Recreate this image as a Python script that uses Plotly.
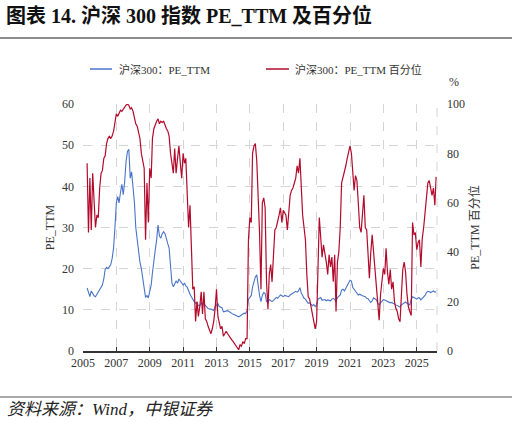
import pandas as pd
import plotly.graph_objects as go

# Monthly observations, Apr 2005 .. Mar 2026
start_month = "2005-04-01"

pe_ttm = [
    # 2005 Apr-Dec
    15.3, 14.0, 13.2, 14.6, 13.8, 13.4, 13.2, 13.8, 14.3,
    # 2006
    15.0, 15.5, 16.0, 17.5, 19.8, 20.3, 20.0, 20.5, 21.0, 22.5, 25.0, 30.0,
    # 2007
    36.0, 37.5, 36.0, 38.5, 40.5, 38.0, 41.0, 46.0, 48.5, 49.0, 42.0, 43.5,
    # 2008
    40.0, 36.0, 30.0, 27.0, 25.0, 21.5, 20.0, 17.5, 15.5, 13.0, 13.5, 12.9,
    # 2009
    14.5, 16.0, 19.0, 22.5, 24.5, 27.0, 30.6, 28.0, 27.4, 28.5, 29.0, 28.5,
    # 2010
    27.0, 26.0, 25.0, 20.0, 16.5, 15.6, 16.5, 17.0, 16.5, 17.5, 17.0, 16.5,
    # 2011
    16.0, 16.5, 15.8, 15.5, 14.5, 13.8, 13.2, 12.5, 12.0, 11.6, 11.8, 11.0,
    # 2012
    11.0, 11.8, 11.2, 11.5, 11.0, 10.6, 10.3, 10.2, 10.2, 10.0, 9.8, 10.8,
    # 2013
    11.2, 11.5, 10.8, 10.6, 10.5, 9.5, 9.6, 9.7, 9.8, 9.6, 9.3, 9.1,
    # 2014
    8.9, 8.8, 8.6, 8.4, 8.3, 8.5, 8.8, 9.0, 9.2, 9.1, 9.8, 12.5,
    # 2015
    13.0, 13.5, 15.5, 17.0, 18.0, 18.5, 15.5, 13.5, 12.0, 13.5, 14.2, 14.0,
    # 2016
    12.0, 11.8, 12.5, 12.2, 12.0, 12.3, 12.6, 13.0, 12.8, 13.2, 13.6, 13.4,
    # 2017
    13.2, 13.5, 13.4, 13.3, 13.2, 13.6, 13.8, 14.0, 14.2, 14.5, 14.3, 14.6,
    # 2018
    15.4, 14.0, 13.5, 12.8, 12.6, 12.0, 11.6, 11.7, 11.4, 11.0, 11.3, 10.8,
    # 2019
    11.2, 12.6, 12.8, 13.0, 12.3, 12.4, 12.5, 12.2, 12.4, 12.3, 12.2, 12.6,
    # 2020
    12.8, 12.5, 12.0, 13.0, 13.2, 13.6, 14.8, 15.0, 14.6, 15.3, 16.0, 16.6,
    # 2021
    17.2, 17.0, 15.5, 15.0, 14.5, 14.2, 13.6, 13.8, 13.5, 13.4, 13.3, 13.2,
    # 2022
    12.8, 12.7, 12.2, 11.8, 12.2, 12.9, 12.7, 12.4, 11.6, 11.2, 11.7, 12.0,
    # 2023
    12.5, 12.4, 12.2, 12.0, 11.8, 11.7, 11.8, 11.5, 11.4, 11.2, 11.0, 10.9,
    # 2024
    10.7, 11.2, 11.5, 11.8, 11.9, 11.6, 11.4, 11.2, 12.5, 13.2, 13.0, 12.8,
    # 2025
    12.6, 12.9, 12.9, 12.4, 12.7, 13.0, 13.5, 14.2, 14.5, 14.4, 14.2, 14.4,
    # 2026 Jan-Mar
    14.6, 14.3, 14.4,
]

pe_pct = [
    # 2005 Apr-Dec
    76, 48, 70, 49, 72, 60, 50, 55, 54,
    # 2006
    66, 72, 73, 78, 79, 84, 86, 87, 86, 87, 89, 93,
    # 2007
    96, 95, 96.5, 97.5, 97, 98, 98.5, 99.5, 100, 99.5, 98, 98.5,
    # 2008
    97, 94, 92, 91, 88, 86, 80, 76, 74, 45, 68, 52,
    # 2009
    74, 70, 86, 90, 92, 93, 94, 92, 93, 92.5, 93, 91,
    # 2010
    90, 89, 87, 80, 76, 72, 82, 72, 78, 83, 76, 70,
    # 2011
    80, 76, 78, 62, 50, 59, 43, 25, 26, 12, 20, 14,
    # 2012
    18, 24, 15, 24, 13, 12, 10, 8, 7, 9, 12, 17,
    # 2013
    25, 14, 11, 9, 10, 6, 7, 8, 7, 6, 5, 4.5,
    # 2014
    3.8, 3, 2, 1.1, 0.5, 2.5, 2, 3.8, 3, 5, 5, 45,
    # 2015
    54, 52, 80, 83, 84, 77, 65, 48, 25, 60, 62, 58,
    # 2016
    28, 17, 31, 35, 28, 40, 49, 50, 52, 55, 58, 52,
    # 2017
    57, 56, 55, 49, 55, 63, 65, 66, 68, 70, 75, 72,
    # 2018
    78, 63, 55, 50, 45, 31, 22, 21, 18, 16, 13, 9,
    # 2019
    12, 36, 54, 46, 38, 43, 40, 36, 31, 39, 34, 38,
    # 2020
    28, 39, 16, 36, 40, 50, 68, 70, 72, 75, 78, 80,
    # 2021
    83, 80, 71, 65, 71, 69, 60, 50, 48, 55, 63, 50,
    # 2022
    49, 39, 29.5, 40, 47, 40, 33, 25, 20, 12.5, 23, 30,
    # 2023
    33.5, 31, 41.6, 32, 27, 33, 25, 28, 20, 17.3, 16, 13,
    # 2024
    11.9, 23, 33, 36, 32, 23, 18, 16, 14.4, 52, 47, 48,
    # 2025
    41, 44, 45, 34, 45.5, 50, 55, 62, 68, 69, 66, 63,
    # 2026 Jan-Mar
    66, 59, 70.5,
]

series_names = ["沪深300：PE_TTM", "沪深300：PE_TTM 百分位"]
left_ticks = [0, 10, 20, 30, 40, 50, 60]
right_ticks = [0, 20, 40, 60, 80, 100]

dates = pd.date_range(start_month, periods=len(pe_ttm), freq="MS")

BLUE = "#4a74c8"
RED = "#b30a2c"
GRID = "#d4d4d4"
TXT = "#333333"
SERIF = "Liberation Serif, Times New Roman, Noto Sans CJK SC, serif"

fig = go.Figure()
fig.add_trace(go.Scatter(x=dates, y=pe_ttm, mode="lines", name=series_names[0],
                         line=dict(color=BLUE, width=1.1), yaxis="y"))
fig.add_trace(go.Scatter(x=dates, y=pe_pct, mode="lines", name=series_names[1],
                         line=dict(color=RED, width=1.2), yaxis="y2"))

fig.update_layout(
    width=516, height=422,
    margin=dict(l=83, r=79, t=104, b=71),
    paper_bgcolor="white", plot_bgcolor="white",
    showlegend=False,
    font=dict(family=SERIF, size=12, color=TXT),
    xaxis=dict(
        type="date", range=["2005-01-01", "2026-03-20"],
        tick0="2005-01-01", dtick="M24", tickformat="%Y",
        showgrid=True, gridcolor=GRID, griddash="dash", gridwidth=1,
        showline=True, linecolor="#333333", linewidth=1.5,
        ticks="inside", ticklen=4, tickcolor="#333333",
        tickfont=dict(family=SERIF, size=12, color=TXT),
        zeroline=False,
    ),
    yaxis=dict(
        range=[0, 60], tickvals=left_ticks,
        showgrid=True, gridcolor=GRID, griddash="dash", gridwidth=1,
        showline=False, zeroline=False, ticks="",
        ticklabelstandoff=8,
        tickfont=dict(family=SERIF, size=12, color=TXT),
        title=dict(text="PE_TTM", font=dict(family=SERIF, size=12, color=TXT), standoff=4),
    ),
    yaxis2=dict(
        range=[0, 100], tickvals=right_ticks, overlaying="y", side="right",
        showgrid=False, showline=False, zeroline=False, ticks="",
        ticklabelstandoff=9,
        tickfont=dict(family=SERIF, size=12, color=TXT),
        title=dict(text="PE_TTM 百分位", font=dict(family=SERIF, size=12, color=TXT), standoff=6),
    ),
)

# right dashed border
fig.add_shape(type="line", xref="paper", yref="paper", x0=1, x1=1, y0=0, y1=1,
              line=dict(color=GRID, width=1, dash="dash"))

# title and separator lines
fig.add_annotation(xref="paper", yref="paper", x=-79/354, y=1 + (104 - 15) / 247,
                   xanchor="left", yanchor="middle", showarrow=False,
                   text="<b>图表 14. 沪深 300 指数 PE_TTM 及百分位</b>",
                   font=dict(family=SERIF, size=20, color="#111111"))
fig.add_shape(type="line", xref="paper", yref="paper",
              x0=-83/354, x1=(512 - 83)/354, y0=1 + (104 - 38) / 247, y1=1 + (104 - 38) / 247,
              line=dict(color="#8c8c8c", width=2))
fig.add_shape(type="line", xref="paper", yref="paper",
              x0=-83/354, x1=(512 - 83)/354, y0=-(397 - 351) / 247, y1=-(397 - 351) / 247,
              line=dict(color="#8c8c8c", width=1.5))
fig.add_annotation(xref="paper", yref="paper", x=-78/354, y=-(409 - 351) / 247,
                   xanchor="left", yanchor="middle", showarrow=False,
                   text="<i>资料来源：Wind，中银证券</i>",
                   font=dict(family=SERIF, size=17, color="#222222"))

# manual legend
leg_y = 1 + (104 - 69) / 247
for x0, x1, col, tx, name in [(90, 112, BLUE, 117, series_names[0]),
                               (266, 289, RED, 293, series_names[1])]:
    fig.add_shape(type="line", xref="paper", yref="paper",
                  x0=(x0 - 83)/354, x1=(x1 - 83)/354, y0=leg_y, y1=leg_y,
                  line=dict(color=col, width=1.5))
    fig.add_annotation(xref="paper", yref="paper", x=(tx - 83)/354, y=leg_y,
                       xanchor="left", yanchor="middle", showarrow=False,
                       text=name, font=dict(family=SERIF, size=11, color=TXT))

# percent unit label
fig.add_annotation(xref="paper", yref="paper", x=(447 - 83)/354, y=1 + (104 - 82) / 247,
                   xanchor="left", yanchor="middle", showarrow=False,
                   text="%", font=dict(family=SERIF, size=12, color=TXT))

fig.write_html("out.html")
